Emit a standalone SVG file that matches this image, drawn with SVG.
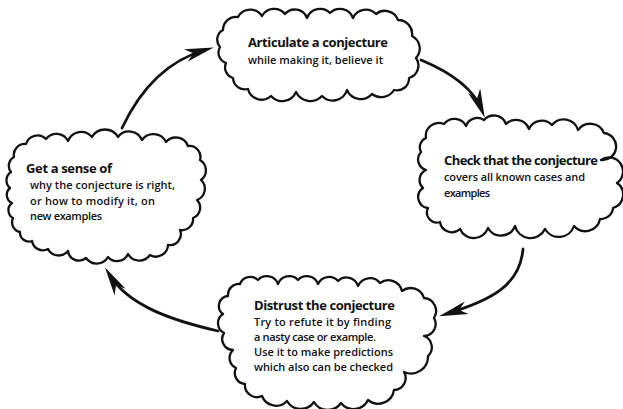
<svg xmlns="http://www.w3.org/2000/svg" width="623" height="409" viewBox="0 0 623 409">
<style>
.cloud{fill:#fff;stroke:#111;stroke-width:2.3;stroke-linejoin:round}
.arr{fill:none;stroke:#111;stroke-width:2.8;stroke-linecap:round}
.h{font-family:"Open Sans","Liberation Sans",sans-serif;font-weight:700;font-size:13px;fill:#111}
.b{font-family:"Open Sans","Liberation Sans",sans-serif;font-weight:600;font-size:11px;fill:#111}
</style>
<defs>
<marker id="ah" markerUnits="userSpaceOnUse" markerWidth="32" markerHeight="16" viewBox="-21 -8 32 16" refX="0" refY="0" orient="auto">
<path d="M9,0 L-20,-6.5 L-12,0 L-20,6.5 Z" fill="#111"/>
</marker>
</defs>
<rect width="623" height="409" fill="#fff"/>
<g id="connectors">
<path class="arr" d="M122,128 C140,90 166,61 205,50" marker-end="url(#ah)"/>
<path class="arr" d="M421,60 C450,72 473,88 481.5,109.5" marker-end="url(#ah)"/>
<path class="arr" d="M523,249 C520,285 492,300 447.6,313.6" marker-end="url(#ah)"/>
<path class="arr" d="M218,331 C170,320 128,305 109.7,275.1" marker-end="url(#ah)"/>
</g>
<g id="node-articulate">
<path class="cloud" d="M223,30 A13,13 0 0 1 238,17 A14,14 0 0 1 262,16 A14,14 0 0 1 285,14 A13,13 0 0 1 307,18 A14,14 0 0 1 330,13 A14,14 0 0 1 353,18 A14,14 0 0 1 376,14 A14,14 0 0 1 398,20 A14,14 0 0 1 412,36 A14,14 0 0 1 416,58 A13,13 0 0 1 409,78 A12,12 0 0 1 394,90 A15,15 0 0 1 372,94 A15,15 0 0 1 347,90 A15,15 0 0 1 322,96 A16,16 0 0 1 296,92 A15,15 0 0 1 271,96 A14,14 0 0 1 248,89 A12,12 0 0 1 233,78 A11,11 0 0 1 226,63 A11,11 0 0 1 220,47 A11,11 0 0 1 223,30 Z"/>
<text class="h" x="248" y="47" textLength="140">Articulate a conjecture</text>
<text class="b" x="248" y="64" textLength="135">while making it, believe it</text>
</g>
<g id="node-check">
<path class="cloud" d="M426,138 A13,13 0 0 1 444,124 A13,13 0 0 1 466,126 A12,12 0 0 1 484,120 A13,13 0 0 1 506,124 A14,14 0 0 1 529,129 A14,14 0 0 1 552,125 A15,15 0 0 1 578,130 A15,15 0 0 1 604,133 A13,13 0 0 1 601,160 A14,14 0 0 1 617,183 A14,14 0 0 1 613,208 A12,12 0 0 1 600,219 A15,15 0 0 1 574,226 A16,16 0 0 1 545,229 A16,16 0 0 1 515,226 A15,15 0 0 1 488,228 A15,15 0 0 1 460,229 A12,12 0 0 1 440,222 A10,10 0 0 1 428,208 A11,11 0 0 1 423,188 A11,11 0 0 1 426,170 A11,11 0 0 1 421,152 A10,10 0 0 1 426,138 Z"/>
<text class="h" x="444" y="165" textLength="154">Check that the conjecture</text>
<text class="b" x="444" y="181" textLength="141">covers all known cases and</text>
<text class="b" x="444" y="197" textLength="46">examples</text>
</g>
<g id="node-distrust">
<path class="cloud" d="M228,296 A11,11 0 0 1 240,284 A11,11 0 0 1 258,280 A12,12 0 0 1 278,284 A12,12 0 0 1 298,280 A12,12 0 0 1 318,284 A12,12 0 0 1 338,281 A12,12 0 0 1 358,286 A13,13 0 0 1 380,283 A14,14 0 0 1 402,291 A14,14 0 0 1 424,298 A13,13 0 0 1 434,318 A12,12 0 0 1 424,336 A12,12 0 0 1 428,356 A17,17 0 0 1 404,372 A12,12 0 0 1 394,390 A16,16 0 0 1 368,400 A16,16 0 0 1 341,403 A16,16 0 0 1 314,402 A16,16 0 0 1 287,401 A15,15 0 0 1 262,396 A12,12 0 0 1 245,384 A11,11 0 0 1 236,368 A11,11 0 0 1 233,350 A11,11 0 0 1 224,333 A11,11 0 0 1 223,314 A10,10 0 0 1 228,296 Z"/>
<text class="h" x="254" y="310" textLength="141">Distrust the conjecture</text>
<text class="b" x="254" y="326" textLength="137">Try to refute it by finding</text>
<text class="b" x="254" y="341" textLength="122">a nasty case or example.</text>
<text class="b" x="254" y="356" textLength="139">Use it to make predictions</text>
<text class="b" x="254" y="371" textLength="139">which also can be checked</text>
</g>
<g id="node-sense">
<path class="cloud" d="M14,157 A11,11 0 0 1 26,144 A12,12 0 0 1 46,139 A13,13 0 0 1 68,141 A14,14 0 0 1 92,137 A15,15 0 0 1 118,137 A14,14 0 0 1 142,140 A14,14 0 0 1 166,142 A13,13 0 0 1 188,146 A11,11 0 0 1 200,160 A12,12 0 0 1 201,180 A12,12 0 0 1 197,200 A11,11 0 0 1 193,218 A11,11 0 0 1 180,230 A11,11 0 0 1 168,245 A12,12 0 0 1 150,255 A13,13 0 0 1 128,254 A12,12 0 0 1 108,257 A13,13 0 0 1 86,258 A11,11 0 0 1 68,251 A12,12 0 0 1 48,249 A11,11 0 0 1 32,241 A9,9 0 0 1 20,232 A10,10 0 0 1 13,218 A9,9 0 0 1 12,203 A9,9 0 0 1 10,188 A10,10 0 0 1 11,172 A10,10 0 0 1 14,157 Z"/>
<text class="h" x="26" y="173" textLength="86">Get a sense of</text>
<text class="b" x="30" y="189" textLength="145">why the conjecture is right,</text>
<text class="b" x="30" y="205" textLength="125">or how to modify it, on</text>
<text class="b" x="30" y="220" textLength="72">new examples</text>
</g>
</svg>
